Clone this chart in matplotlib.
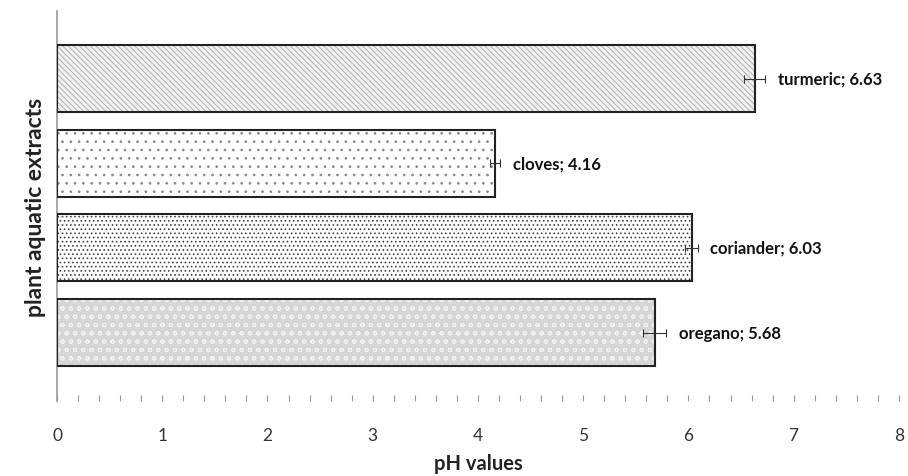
import matplotlib.pyplot as plt
import numpy as np

# --- DATA ---
extracts = ["oregano", "coriander", "cloves", "turmeric"]
ph_values = [5.68, 6.03, 4.16, 6.63]
ph_errors = [0.11, 0.06, 0.05, 0.10]

# --- STYLE ---
fills = ["#d6d6d6", "white", "white", "#f2f2f2"]
hatch_cols = ["#f4f4f4", "#444444", "#888888", "#b0b0b0"]
hatches = ["oo", "....", "..", "\\\\\\\\\\\\"]

plt.rcParams["font.family"] = ["Lato", "DejaVu Sans"]
plt.rcParams["hatch.linewidth"] = 0.7

fig = plt.figure(figsize=(9.08, 4.77), dpi=100)
ax = fig.add_axes([0.0628, 0.157, 0.9272, 0.818])

y = np.arange(len(extracts))
# hatched fill first, then the black outline on top
for i in range(len(extracts)):
    ax.barh(y[i], ph_values[i], height=0.79, color=fills[i], hatch=hatches[i],
            edgecolor=hatch_cols[i], linewidth=0, zorder=2)
ax.barh(y, ph_values, height=0.79, fill=False, edgecolor="#222222", linewidth=1.5, zorder=3)
ax.errorbar(ph_values, y, xerr=ph_errors, fmt="none", ecolor="#333333",
            elinewidth=0.8, capsize=3, capthick=0.8, zorder=4)

for i, name in enumerate(extracts):
    ax.annotate(f"{name}; {ph_values[i]:.2f}", (ph_values[i] + ph_errors[i], y[i]),
                xytext=(9, 0), textcoords="offset points", va="center", ha="left",
                fontsize=12, fontweight="bold", color="#111111")

ax.set_xlim(0, 8)
ax.set_ylim(-0.81, 3.80)
ax.set_yticks([])
ax.set_xticks(range(0, 9))
ax.set_xticks(np.arange(0, 8.01, 0.2), minor=True)
ax.tick_params(axis="x", which="both", direction="in", length=4, width=0.8,
               color="#999999", labelsize=12.5, labelcolor="#333333", pad=19)

for side in ["top", "right", "bottom"]:
    ax.spines[side].set_visible(False)
ax.spines["left"].set_color("#999999")
ax.spines["left"].set_linewidth(1.2)

ax.set_xlabel("pH values", fontsize=14.5, fontweight="bold", color="#222222", labelpad=7)
ax.set_ylabel("plant aquatic extracts", fontsize=16.5, fontweight="bold", color="#222222", labelpad=8)

fig.savefig("out.png", dpi=100)
